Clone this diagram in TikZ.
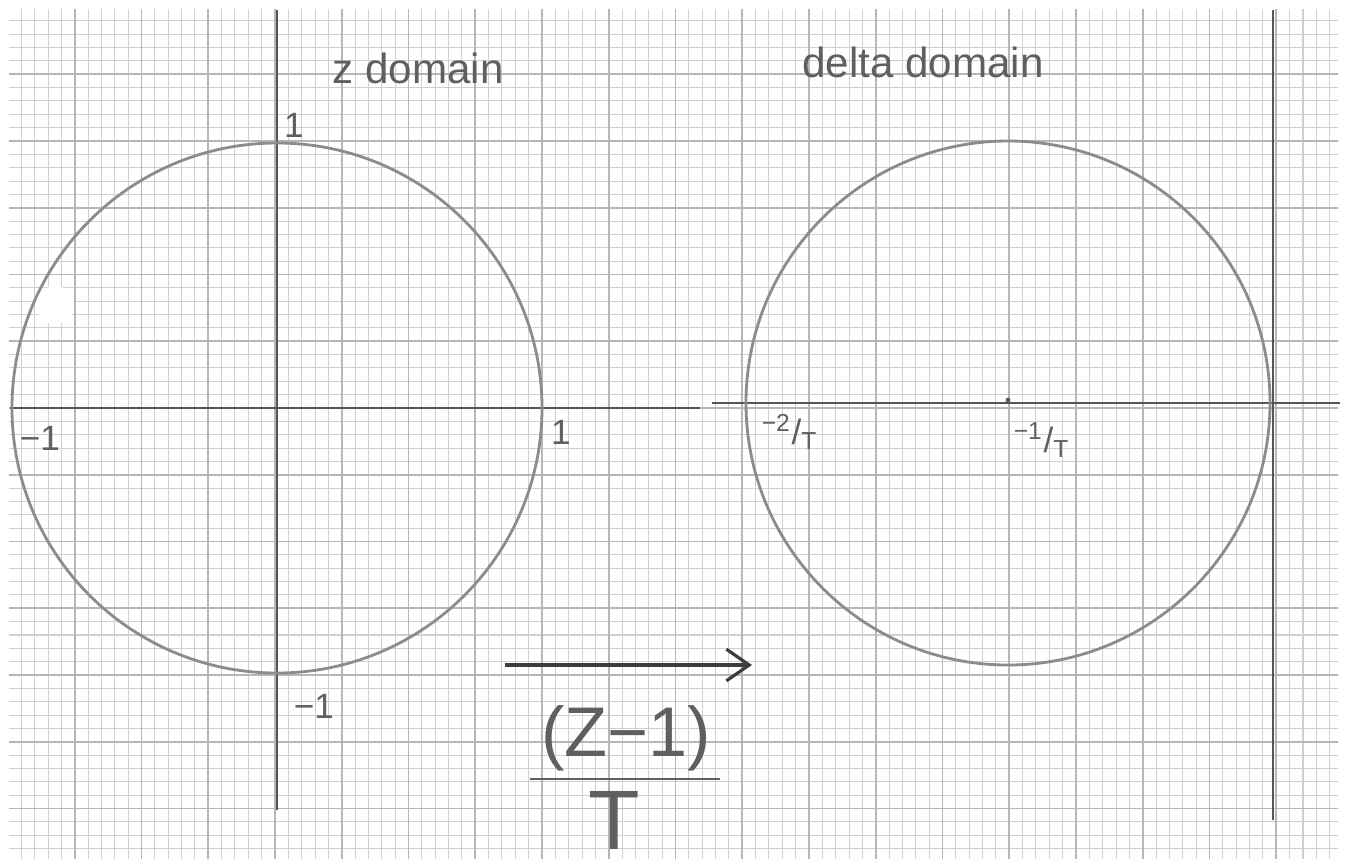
\documentclass[tikz,border=0pt]{standalone}
\usepackage{fontspec}
\setmainfont{Liberation Sans}
\usetikzlibrary{arrows.meta}
\definecolor{gridminor}{RGB}{208,208,208}
\definecolor{gridmajor}{RGB}{182,182,182}
\definecolor{axisgray}{RGB}{85,85,85}
\definecolor{circgray}{RGB}{140,140,140}
\definecolor{inkgray}{RGB}{95,95,95}
\definecolor{inkdark}{RGB}{60,60,60}

\begin{document}
\begin{tikzpicture}[x=0.1mm, y=-0.1mm,
    minor/.style={draw=gridminor, line width=0.3pt},
    major/.style={draw=gridmajor, line width=0.45pt},
    axis/.style={draw=axisgray, line width=0.7pt},
    curve/.style={draw=circgray, line width=0.8pt},
    lbl/.style={text=inkgray, inner sep=0pt, font=\fontsize{12}{14}\selectfont},
    num/.style={text=inkgray, inner sep=0pt, font=\fontsize{10}{12}\selectfont},
    big/.style={text=inkgray, inner sep=0pt, font=\fontsize{20}{24}\selectfont},
    arr/.style={draw=inkdark, line width=1.3pt,
                -{Straight Barb[length=6.5pt, width=9pt, line width=0.9pt]}}]

  \useasboundingbox (0,0) rectangle (1353,867);
  \fill[white] (0,0) rectangle (1353,867);

  % graph paper
  \begin{scope}
    \clip (9,9) rectangle (1338,858);
    \foreach \i in {-20,...,80}
      \draw[minor] ({275+13.35*\i},0) -- ({275+13.35*\i},867);
    \foreach \j in {-30,...,34}
      \draw[minor] (0,{408+13.35*\j}) -- (1353,{408+13.35*\j});
    \foreach \i in {-20,-15,...,80}
      \draw[major] ({275+13.35*\i},0) -- ({275+13.35*\i},867);
    \foreach \j in {-30,-25,...,34}
      \draw[major] (0,{408+13.35*\j}) -- (1353,{408+13.35*\j});
  \end{scope}

  % centres and axes
  \coordinate (zc) at (277,408);
  \coordinate (dc) at (1008,403);
  \draw[axis] (10,408) -- (700,408);
  \draw[axis] (277,10) -- (277,810);
  \draw[axis] (712,403) -- (1340,403);
  \draw[axis] (1273,10) -- (1273,820);

  % unit circle and its image
  \draw[curve] (zc) circle[radius=265];
  \draw[curve] (dc) circle[radius=262];
  \fill[white] (55,305) circle[radius=19];
  \fill[inkgray] (1008,400) circle[radius=2.5];

  % labels
  \node[lbl] (zdom)   at (418,68)  {z domain};
  \node[lbl] (ddom)   at (923,62)  {delta domain};
  \node[num] (ztop)   at (294,125) {1};
  \node[num] (zright) at (561,432) {1};
  \node[num] (zleft)  at (40,438)  {−1};
  \node[num] (zbot)   at (314,706) {−1};
  \node[num] (dleft)  at (790,432) {\textsuperscript{−2}/\textsubscript{T}};
  \node[num] (dmid)   at (1042,440) {\textsuperscript{−1}/\textsubscript{T}};

  % mapping
  \coordinate (mapS) at (505,665);
  \coordinate (mapE) at (752,665);
  \draw[arr] (mapS) -- (mapE);

  \node[big] (numer) at (626,738) {(Z−1)};
  \coordinate (barL) at (530,779);
  \coordinate (barR) at (720,779);
  \draw[draw=inkgray, line width=0.8pt] (barL) -- (barR);
  \node[big, font=\fontsize{24}{28}\selectfont] (denom) at (614,820) {T};
\end{tikzpicture}
\end{document}
